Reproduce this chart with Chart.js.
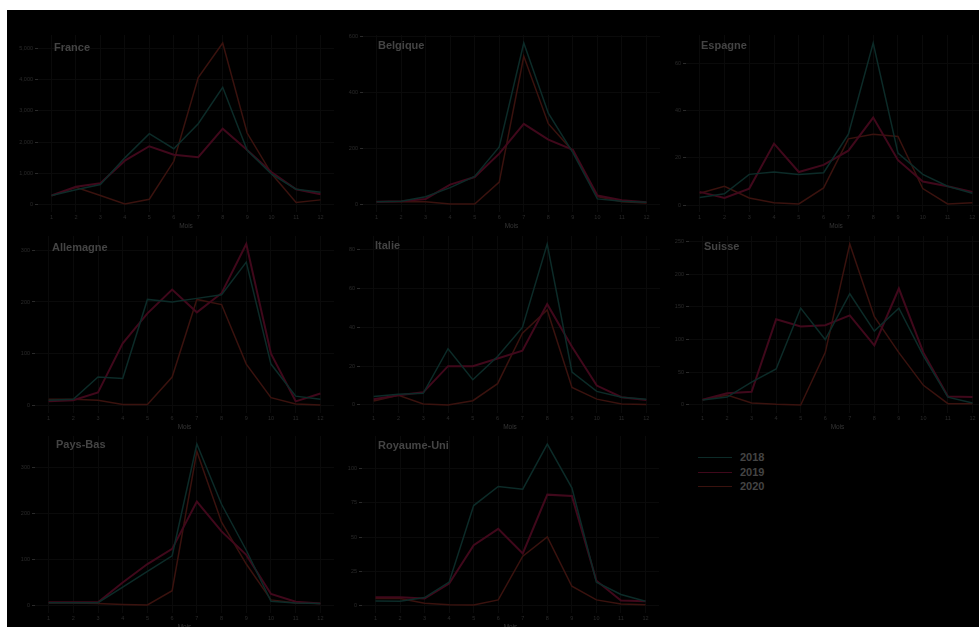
<!DOCTYPE html>
<html>
<head>
<meta charset="utf-8">
<script src="https://cdn.jsdelivr.net/npm/chart.js@4.4.1/dist/chart.umd.min.js"></script>
<style>
  html, body { margin: 0; padding: 0; width: 979px; height: 627px; overflow: hidden; background: #fff; }
  #stage { position: absolute; left: 7px; top: 10px; width: 1000px; height: 640px; background: #000; }
  canvas { position: absolute; }
  .ttl { position: absolute; font: bold 11px "Liberation Sans", Arial, sans-serif; color: #444; white-space: nowrap; line-height: 11px; }
  .lg { position: absolute; font: bold 11px "Liberation Sans", Arial, sans-serif; color: #444; line-height: 11px; white-space: nowrap; }
  .lgline { position: absolute; height: 1.5px; width: 34px; }
</style>
</head>
<body>
<div id="stage"></div>
<script>
// Months on the x axis
const months = [1, 2, 3, 4, 5, 6, 7, 8, 9, 10, 11, 12];
const years = ['2018', '2019', '2020'];

// Monthly values per country and year
const france2018 = [300, 480, 650, 1500, 2270, 1790, 2590, 3750, 1740, 980, 500, 400];
const france2019 = [300, 580, 690, 1410, 1870, 1600, 1520, 2430, 1750, 1040, 500, 340];
const france2020 = [290, 560, 300, 30, 180, 1390, 4060, 5160, 2290, 990, 80, 160];

const belgique2018 = [10, 12, 28, 60, 100, 205, 575, 325, 185, 20, 12, 8];
const belgique2019 = [10, 12, 20, 71, 98, 181, 287, 231, 195, 32, 15, 8];
const belgique2020 = [10, 10, 10, 2, 2, 80, 528, 288, 190, 28, 10, 5];

const espagne2018 = [3.2, 4.8, 13, 14, 13, 13.7, 30, 68.5, 22, 13, 8, 5];
const espagne2019 = [5.6, 3, 7, 26, 14, 17, 23, 37, 19, 10, 8, 5.6];
const espagne2020 = [5, 8, 3, 1, 0.5, 7.3, 28, 30, 29, 7, 0.5, 1];

const allemagne2018 = [10, 12, 55, 52, 205, 200, 207, 214, 277, 80, 18, 12];
const allemagne2019 = [8, 10, 25, 120, 178, 224, 180, 217, 312, 100, 8, 23];
const allemagne2020 = [12, 12, 10, 2, 2, 55, 205, 195, 80, 15, 3, 1];

const italie2018 = [4.3, 5.5, 6, 29, 13, 25, 40, 83, 17, 7, 4, 3];
const italie2019 = [3, 5, 6.5, 20, 20, 24, 28, 52, 30, 10, 4, 2.5];
const italie2020 = [2, 5, 0.5, 0, 2.2, 11, 37, 49, 9, 3, 0.5, 0.2];

const suisse2018 = [7.7, 12, 35, 55, 148, 100, 170, 113, 148, 75, 12, 3];
const suisse2019 = [8, 18, 20, 131, 120, 122, 137, 91, 178, 80, 13, 12];
const suisse2020 = [8, 15, 3, 1, 0, 80, 246, 135, 80, 30, 2, 2];

const paysBas2018 = [6, 6, 6, 40, 74, 108, 351, 220, 120, 9, 5, 4];
const paysBas2019 = [7, 7, 7, 50, 90, 123, 226, 161, 110, 25, 8, 4];
const paysBas2020 = [5, 5, 4, 2, 1, 32, 335, 181, 90, 12, 5, 4];

const royaumeUni2018 = [3.2, 3, 5.7, 17, 73, 87, 85, 118, 86, 17, 8, 3];
const royaumeUni2019 = [6, 6, 5, 16, 44, 56, 38, 81, 80, 18, 3.5, 3];
const royaumeUni2020 = [5, 5, 1.5, 0.5, 0.3, 4, 36, 50, 14, 4, 1, 0.5];

// Y-axis tick values per panel
const franceTicks = [0, 1000, 2000, 3000, 4000, 5000];
const belgiqueTicks = [0, 200, 400, 600];
const espagneTicks = [0, 20, 40, 60];
const allemagneTicks = [0, 100, 200, 300];
const italieTicks = [0, 20, 40, 60, 80];
const suisseTicks = [0, 50, 100, 150, 200, 250];
const paysBasTicks = [0, 100, 200, 300];
const royaumeUniTicks = [0, 25, 50, 75, 100];

// Styling
const COLORS = ['#0c2b28', '#40081b', '#3a120e'];
const WIDTHS = [1.5, 2, 1.5];
const GRID = '#0a0a0a';
const TICK_TXT = '#2a2a2a';
const AXIS_TXT = '#353535';
const FONT = '"Liberation Sans", Arial, sans-serif';

// Panel layout: plot-area edges in page pixels and title anchor
const ROW_TOP = [35, 235.5, 436];
const PLOT_H = 177;
const AXIS_W = 40, PAD_TOP = 6, X_AXIS_H = 18;

const panels = [
  { name: 'France',      series: [france2018, france2019, france2020],             ticks: franceTicks,     row: 0, left: 38.3,  right: 334.2, tx: 54,  ty: 42 },
  { name: 'Belgique',    series: [belgique2018, belgique2019, belgique2020],       ticks: belgiqueTicks,   row: 0, left: 362.5, right: 659.5, tx: 378, ty: 40 },
  { name: 'Espagne',     series: [espagne2018, espagne2019, espagne2020],          ticks: espagneTicks,    row: 0, left: 686.4, right: 986.3, tx: 701, ty: 40 },
  { name: 'Allemagne',   series: [allemagne2018, allemagne2019, allemagne2020],    ticks: allemagneTicks,  row: 1, left: 35.4,  right: 334.3, tx: 52,  ty: 242 },
  { name: 'Italie',      series: [italie2018, italie2019, italie2020],             ticks: italieTicks,     row: 1, left: 359.7, right: 659.6, tx: 375, ty: 240 },
  { name: 'Suisse',      series: [suisse2018, suisse2019, suisse2020],             ticks: suisseTicks,     row: 1, left: 689.2, right: 986.2, tx: 704, ty: 241 },
  { name: 'Pays-Bas',    series: [paysBas2018, paysBas2019, paysBas2020],          ticks: paysBasTicks,    row: 2, left: 35.4,  right: 334.3, tx: 56,  ty: 439 },
  { name: 'Royaume-Uni', series: [royaumeUni2018, royaumeUni2019, royaumeUni2020], ticks: royaumeUniTicks, row: 2, left: 362.2, right: 659.5, tx: 378, ty: 440 }
];

function makePanel(p) {
  const cLeft = p.left - AXIS_W;
  const cTop = ROW_TOP[p.row] - PAD_TOP;
  const w = Math.round(p.right - cLeft);
  const h = PAD_TOP + PLOT_H + X_AXIS_H;
  const cv = document.createElement('canvas');
  cv.width = w; cv.height = h;
  cv.style.left = cLeft + 'px'; cv.style.top = cTop + 'px';
  cv.style.width = w + 'px'; cv.style.height = h + 'px';
  document.body.appendChild(cv);

  const all = [].concat(...p.series);
  const lo = Math.min(...all), hi = Math.max(...all), span = hi - lo;

  new Chart(cv, {
    type: 'line',
    data: {
      datasets: p.series.map((s, k) => ({
        label: years[k],
        data: months.map((m, i) => ({ x: m, y: s[i] })),
        borderColor: COLORS[k],
        borderWidth: WIDTHS[k],
        pointRadius: 0,
        tension: 0,
        fill: false
      }))
    },
    options: {
      responsive: false,
      animation: false,
      events: [],
      layout: { padding: { top: PAD_TOP, left: 0, right: 0, bottom: 0 } },
      plugins: { legend: { display: false }, tooltip: { enabled: false } },
      scales: {
        x: {
          type: 'linear',
          min: 0.45, max: 12.55,
          afterBuildTicks: s => { s.ticks = months.map(v => ({ value: v })); },
          afterFit: s => { s.height = X_AXIS_H; },
          ticks: { color: TICK_TXT, font: { family: FONT, size: 5.5 }, padding: 2, maxRotation: 0, autoSkip: false },
          grid: { color: GRID, drawTicks: false },
          border: { display: false },
          title: { display: true, text: 'Mois', color: AXIS_TXT, font: { family: FONT, size: 6.5 }, padding: { top: 1, bottom: 0 } }
        },
        y: {
          min: lo - 0.05 * span,
          max: hi + 0.05 * span,
          afterBuildTicks: s => { s.ticks = p.ticks.map(v => ({ value: v })); },
          afterFit: s => { s.width = AXIS_W; },
          ticks: { color: TICK_TXT, font: { family: FONT, size: 5.5 }, padding: 2 },
          grid: { color: GRID, tickColor: TICK_TXT, tickLength: 3 },
          border: { display: false }
        }
      }
    }
  });

  const t = document.createElement('div');
  t.className = 'ttl';
  t.textContent = p.name;
  t.style.left = p.tx + 'px';
  t.style.top = p.ty + 'px';
  document.body.appendChild(t);
}

panels.forEach(makePanel);

// Legend in the empty ninth cell
const LEG_Y = [457.7, 472.3, 486.7];
years.forEach((y, k) => {
  const ln = document.createElement('div');
  ln.className = 'lgline';
  ln.style.left = '698px';
  ln.style.top = (LEG_Y[k] - 0.75) + 'px';
  ln.style.background = COLORS[k];
  document.body.appendChild(ln);
  const tx = document.createElement('div');
  tx.className = 'lg';
  tx.textContent = y;
  tx.style.left = '740px';
  tx.style.top = (LEG_Y[k] - 5.5) + 'px';
  document.body.appendChild(tx);
});
</script>
</body>
</html>
